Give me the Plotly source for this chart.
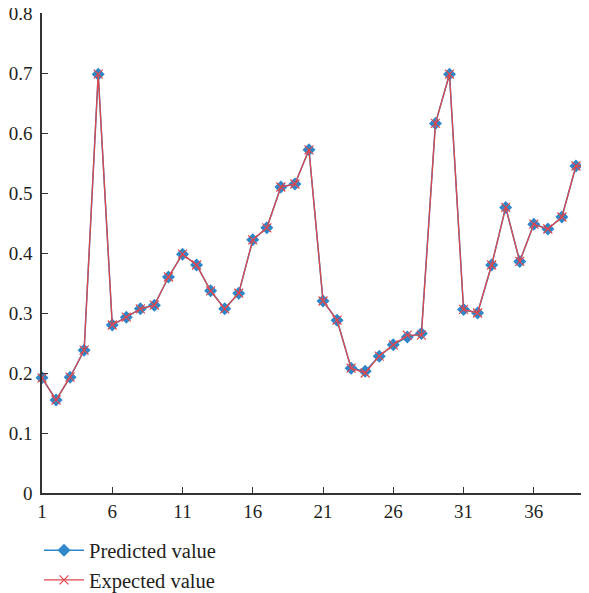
import plotly.graph_objects as go

x_vals = list(range(1, 41))
predicted = [0.192, 0.155, 0.193, 0.238, 0.698, 0.280, 0.293, 0.307, 0.313, 0.360,
             0.398, 0.380, 0.337, 0.307, 0.333, 0.422, 0.442, 0.510, 0.515, 0.572,
             0.320, 0.288, 0.208, 0.203, 0.228, 0.247, 0.260, 0.266, 0.616, 0.698,
             0.306, 0.300, 0.380, 0.476, 0.386, 0.448, 0.440, 0.460, 0.545, 0.545]
expected = [0.192, 0.155, 0.193, 0.238, 0.698, 0.280, 0.293, 0.307, 0.313, 0.360,
            0.398, 0.380, 0.337, 0.307, 0.333, 0.422, 0.442, 0.510, 0.515, 0.572,
            0.320, 0.288, 0.208, 0.200, 0.228, 0.247, 0.263, 0.263, 0.616, 0.698,
            0.306, 0.300, 0.380, 0.476, 0.386, 0.448, 0.440, 0.460, 0.545, 0.545]
x_ticks = [1, 6, 11, 16, 21, 26, 31, 36]
y_ticks = [0, 0.1, 0.2, 0.3, 0.4, 0.5, 0.6, 0.7, 0.8]
y_tick_text = ["0", "0.1", "0.2", "0.3", "0.4", "0.5", "0.6", "0.7", "0.8"]

BLUE = "#2f86c8"
RED = "#e0474c"
FONT = "Liberation Serif"

fig = go.Figure()
fig.add_trace(go.Scatter(
    x=x_vals, y=predicted, name="Predicted value", mode="lines+markers",
    line=dict(color=BLUE, width=1.5),
    marker=dict(symbol="diamond", size=10, color=BLUE),
    cliponaxis=False,
))
fig.add_trace(go.Scatter(
    x=x_vals, y=expected, name="Expected value", mode="lines+markers",
    line=dict(color=RED, width=1.3),
    marker=dict(symbol="x-thin", size=9, line=dict(color=RED, width=1.2)),
    cliponaxis=False,
))

fig.update_layout(
    width=589, height=593,
    margin=dict(l=34, r=7, t=5, b=108, autoexpand=False),
    plot_bgcolor="white", paper_bgcolor="white",
    font=dict(family=FONT, size=19, color="#231f20"),
    showlegend=True,
    legend=dict(
        x=-0.0055, y=-0.078, xanchor="left", yanchor="top",
        font=dict(family=FONT, size=20.5, color="#231f20"),
        bgcolor="rgba(0,0,0,0)", tracegroupgap=0, itemwidth=40,
    ),
    xaxis=dict(
        range=[1, 40], tickmode="array", tickvals=x_ticks,
        ticks="inside", ticklen=6, tickcolor="#333", tickwidth=1,
        showline=True, linecolor="#333", linewidth=1.5,
        showgrid=False, zeroline=False, ticklabeloverflow="allow",
        tickfont=dict(family=FONT, size=19, color="#231f20"),
    ),
    yaxis=dict(
        range=[0, 0.8], tickmode="array", tickvals=y_ticks, ticktext=y_tick_text,
        ticks="inside", ticklen=6, tickcolor="#333", tickwidth=1,
        showline=True, linecolor="#333", linewidth=1.5,
        showgrid=False, zeroline=False, ticklabelstandoff=4,
        ticklabeloverflow="allow",
        tickfont=dict(family=FONT, size=19, color="#231f20"),
    ),
)

fig.write_html("out.html")
